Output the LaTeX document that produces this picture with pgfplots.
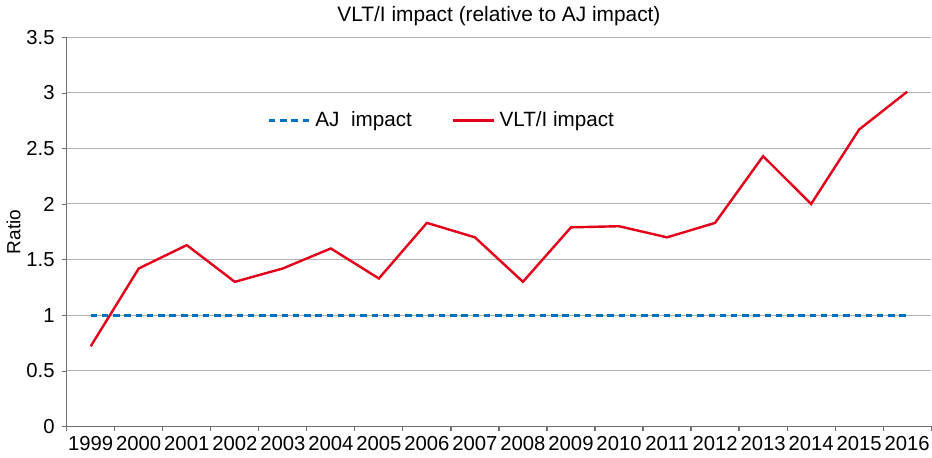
\documentclass[border=0pt]{standalone}
\usepackage{fontspec}
\setmainfont{Liberation Sans}
\usepackage{pgfplots}
\pgfplotsset{compat=1.18}

\definecolor{ajblue}{RGB}{0,112,192}
\definecolor{vltred}{RGB}{226,0,26}
\definecolor{gridgray}{RGB}{178,178,178}
\definecolor{axisgray}{RGB}{110,110,110}

\begin{document}
\begin{tikzpicture}
\begin{axis}[
    scale only axis,
    width=431pt, height=194pt,
    xmin=-0.5, xmax=17.5,
    ymin=0, ymax=3.5,
    ytick={0,0.5,...,3.5},
    yticklabels={0,0.5,1,1.5,2,2.5,3,3.5},
    xtick={0,...,17},
    xticklabels={1999,2000,2001,2002,2003,2004,2005,2006,2007,2008,2009,2010,2011,2012,2013,2014,2015,2016},
    minor xtick={-0.5,0.5,...,17.5},
    major x tick style={draw=none},
    minor x tick style={draw=axisgray, line width=0.6pt},
    minor tick length=2.5pt,
    major tick length=2.5pt,
    tick align=outside,
    axis x line*=bottom, axis y line*=left,
    axis line style={draw=axisgray, line width=0.8pt, -},
    ymajorgrids, grid style={gridgray, line width=0.5pt},
    y tick style={draw=axisgray},
    ticklabel style={font=\fontsize{10.1}{12}\selectfont},
    xticklabel style={yshift=1pt, inner xsep=0pt},
    /pgf/number format/assume math mode=true,
    ylabel={Ratio}, ylabel style={font=\fontsize{9.5}{11}\selectfont, yshift=-4pt},
    title={VLT/I impact (relative to AJ impact)},
    title style={font=\fontsize{10.4}{12}\selectfont, yshift=-4pt},
    legend style={draw=none, fill=none, at={(0.435,0.786)}, anchor=center,
        legend columns=2, font=\fontsize{10.3}{12}\selectfont,
        /tikz/every even column/.append style={column sep=18pt}},
    legend image post style={scale=1.2},
    legend cell align=left,
    clip=false,
]
\addplot[ajblue, line width=1.4pt, dash pattern=on 3.2pt off 2.4pt] coordinates {
(0,1) (1,1) (2,1) (3,1) (4,1) (5,1) (6,1) (7,1) (8,1) (9,1)
(10,1) (11,1) (12,1) (13,1) (14,1) (15,1) (16,1) (17,1)};
\addlegendentry{AJ\ \ impact}
\addplot[vltred, line width=1.2pt] coordinates {
(0,0.72) (1,1.42) (2,1.63) (3,1.30) (4,1.42) (5,1.60) (6,1.33) (7,1.83) (8,1.70)
(9,1.30) (10,1.79) (11,1.80) (12,1.70) (13,1.83) (14,2.43) (15,2.00) (16,2.67) (17,3.01)};
\addlegendentry{VLT/I impact}
\end{axis}
\end{tikzpicture}
\end{document}
